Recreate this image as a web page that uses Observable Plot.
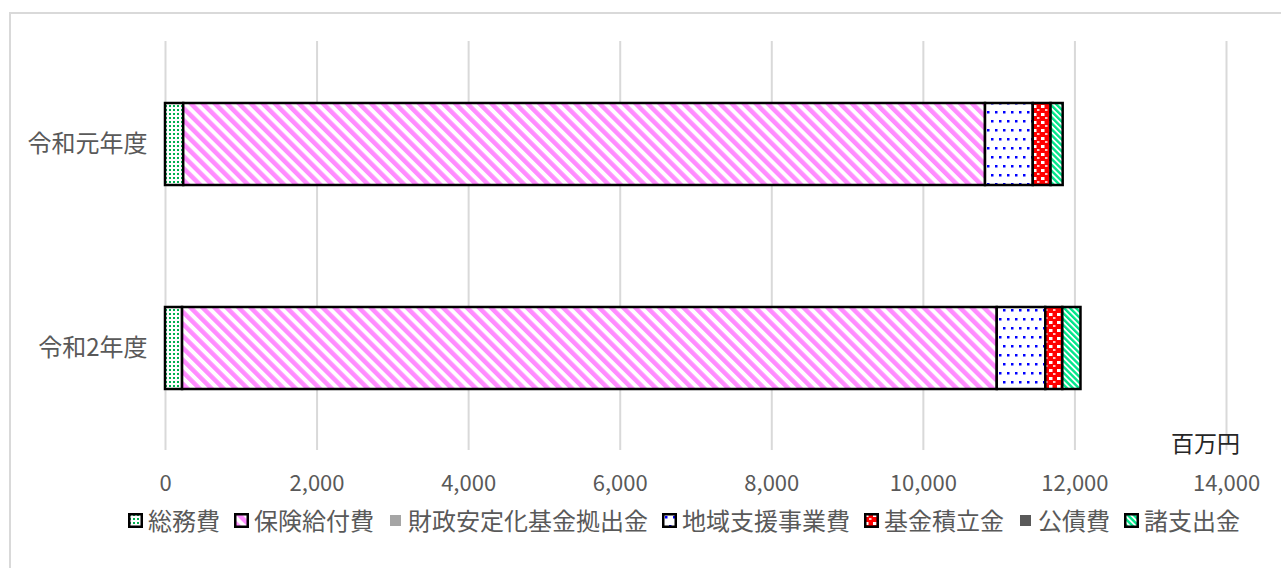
<!DOCTYPE html>
<html><head><meta charset="utf-8">
<script src="https://cdn.jsdelivr.net/npm/d3@7"></script>
<script src="https://cdn.jsdelivr.net/npm/@observablehq/plot@0.6"></script>
<style>
  html,body{margin:0;padding:0;background:#fff;}
  #wrap{position:relative;width:1281px;height:568px;overflow:hidden;font-family:"Noto Sans CJK JP","Noto Sans",sans-serif;}
  #frame{position:absolute;left:9px;top:12px;width:1400px;height:700px;border:2px solid #d9d9d9;box-sizing:border-box;}
  #chart{position:absolute;left:0;top:0;}
  #unit{position:absolute;left:1171px;top:431px;font-size:23px;line-height:23px;color:#262626;white-space:nowrap;}
  #legend{position:absolute;left:128px;top:508px;display:flex;align-items:center;font-size:24px;line-height:24px;color:#595959;white-space:nowrap;}
  .item{display:flex;align-items:center;margin-right:14px;}
  .item svg{margin-right:5px;}
</style>
</head><body>
<svg width="0" height="0" style="position:absolute">
  <defs>
    <pattern id="p-somu" patternUnits="userSpaceOnUse" width="4" height="4">
      <rect width="4" height="4" fill="#fff"/>
      <rect x="1" y="1" width="2" height="2" fill="#00b050"/>
    </pattern>
    <pattern id="p-hoken" patternUnits="userSpaceOnUse" width="8.5" height="8.5" patternTransform="rotate(-45)">
      <rect width="8.5" height="8.5" fill="#fff"/>
      <rect x="0" y="0" width="4.5" height="8.5" fill="#ff8cff"/>
    </pattern>
    <pattern id="p-zaisei" patternUnits="userSpaceOnUse" width="4" height="4">
      <rect width="4" height="4" fill="#a5a5a5"/>
    </pattern>
    <pattern id="p-chiiki" patternUnits="userSpaceOnUse" width="16" height="18">
      <rect width="16" height="18" fill="#fff"/>
      <rect x="3" y="3" width="2.5" height="2.5" fill="#0000ff"/>
      <rect x="11" y="3" width="2.5" height="2.5" fill="#0000ff"/>
      <rect x="7" y="12" width="2.5" height="2.5" fill="#0000ff"/>
      <rect x="15" y="12" width="1" height="2.5" fill="#0000ff"/>
      <rect x="0" y="12" width="1.5" height="2.5" fill="#0000ff"/>
    </pattern>
    <pattern id="p-kikin" patternUnits="userSpaceOnUse" width="8" height="8">
      <rect width="8" height="8" fill="#ff0000"/>
      <rect x="1" y="1" width="3.5" height="3" fill="#fff"/>
      <rect x="5" y="5" width="2.5" height="2" fill="#ffc8c8"/>
    </pattern>
    <pattern id="p-kousai" patternUnits="userSpaceOnUse" width="4" height="4">
      <rect width="4" height="4" fill="#595959"/>
    </pattern>
    <pattern id="p-shoshi" patternUnits="userSpaceOnUse" width="4.2" height="4.2" patternTransform="rotate(-45)">
      <rect width="4.2" height="4.2" fill="#fff"/>
      <rect x="0" y="0" width="2.4" height="4.2" fill="#00e68a"/>
    </pattern>
  </defs>
</svg>
<div id="wrap">
  <div id="frame"></div>
  <div id="chart"></div>
  <div id="unit">百万円</div>
  <div id="legend"></div>
</div>
<script>
// ---- data ----
const years = ["令和元年度", "令和2年度"];
const categories = ["総務費", "保険給付費", "財政安定化基金拠出金", "地域支援事業費", "基金積立金", "公債費", "諸支出金"];
const values総務費 = [240, 225];
const values保険給付費 = [10580, 10750];
const values財政安定化基金拠出金 = [0, 0];
const values地域支援事業費 = [630, 640];
const values基金積立金 = [235, 225];
const values公債費 = [0, 0];
const values諸支出金 = [160, 240];
const xTicks = [0, 2000, 4000, 6000, 8000, 10000, 12000, 14000];
const unitLabel = "百万円";

// styles (not data)
const patternIds = ["p-somu", "p-hoken", "p-zaisei", "p-chiiki", "p-kikin", "p-kousai", "p-shoshi"];
const bordered = [true, true, false, true, true, false, true];

const series = [values総務費, values保険給付費, values財政安定化基金拠出金, values地域支援事業費, values基金積立金, values公債費, values諸支出金];
const data = [];
years.forEach((y, i) => categories.forEach((c, j) => data.push({year: y, cat: c, value: series[j][i]})));

const chart = Plot.plot({
  width: 1281,
  height: 500,
  marginLeft: 165,
  marginRight: 55,
  marginTop: 41,
  marginBottom: 50,
  style: {fontFamily: '"Noto Sans CJK JP","Noto Sans",sans-serif', background: "transparent", color: "#595959", overflow: "visible"},
  x: {domain: [0, 14000], label: null},
  y: {domain: years, paddingInner: 0.6, paddingOuter: 0.3, label: null},
  color: {domain: categories, range: patternIds.map(id => `url(#${id})`)},
  marks: [
    Plot.gridX(xTicks, {stroke: "#d9d9d9", strokeOpacity: 1, strokeWidth: 2}),
    Plot.barX(data.filter(d => d.value > 0), {x: "value", y: "year", fill: "cat", stroke: "#000", strokeWidth: 2.5}),
    Plot.axisX(xTicks, {tickSize: 0, tickPadding: 25, fontSize: 22, tickFormat: d3.format(","), label: null}),
    Plot.axisY({tickSize: 0, tickPadding: 18, fontSize: 24, label: null})
  ]
});
document.getElementById("chart").appendChild(chart);
document.getElementById("unit").textContent = unitLabel;

const legend = document.getElementById("legend");
categories.forEach((c, j) => {
  const item = document.createElement("div");
  item.className = "item";
  const sw = bordered[j]
    ? `<svg width="15" height="15"><rect x="1.25" y="1.25" width="12.5" height="12.5" fill="url(#${patternIds[j]})" stroke="#000" stroke-width="2.5"/></svg>`
    : `<svg width="15" height="15"><rect x="2" y="2" width="11" height="11" fill="url(#${patternIds[j]})"/></svg>`;
  item.innerHTML = sw + `<span>${c}</span>`;
  legend.appendChild(item);
});
</script>
</body></html>
